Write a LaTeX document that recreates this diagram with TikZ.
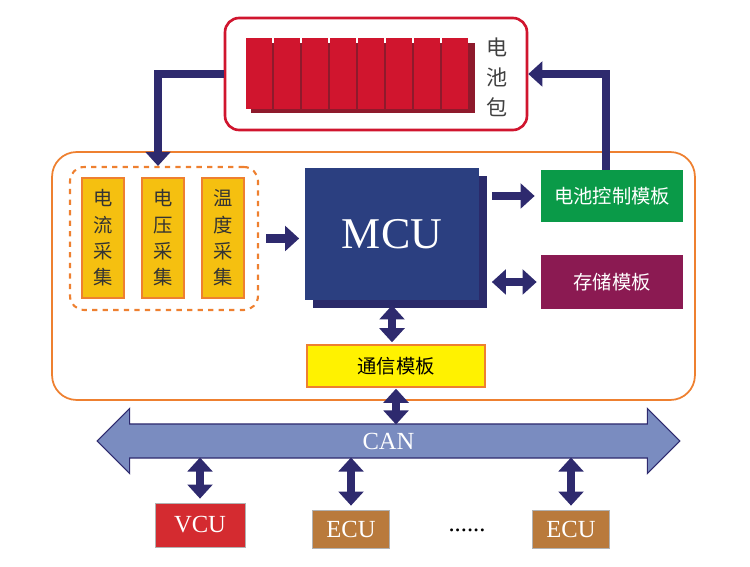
\documentclass[tikz,border=0pt]{standalone}
\usepackage{fontspec}
\newfontfamily\cjk{Noto Sans CJK SC}
\setmainfont{Liberation Serif}
\usetikzlibrary{positioning, arrows.meta, shapes.arrows, shadows}
\definecolor{navy}{HTML}{2E2A6E}
\definecolor{mcublue}{HTML}{2B3F80}
\definecolor{mcushade}{HTML}{2A2A6A}
\definecolor{cellred}{HTML}{D0152E}
\definecolor{celldark}{HTML}{8E1A2C}
\definecolor{frame}{HTML}{EE8030}
\definecolor{senseyel}{HTML}{F5C010}
\definecolor{ctrlgreen}{HTML}{0A9A48}
\definecolor{memplum}{HTML}{8B1A52}
\definecolor{busblue}{HTML}{7A8CC0}
\definecolor{vcured}{HTML}{D42B30}
\definecolor{ecubrown}{HTML}{B97A3C}
\tikzset{
  flow/.style={draw=navy, line width=5pt, -{Triangle[width=14pt,length=8pt]}},
  both/.style={flow, {Triangle[width=14pt,length=8pt]}-{Triangle[width=14pt,length=8pt]}},
  sensor/.style={rectangle, draw=frame, line width=0.8pt, fill=senseyel, minimum width=0.84cm,
    minimum height=2.4cm, align=center, text=black!80, font=\cjk\fontsize{11}{15}\selectfont},
  module/.style={rectangle, minimum width=2.84cm, text=white, font=\cjk\fontsize{11}{13}\selectfont},
  unit/.style={rectangle, draw=white!70!black, text=white, font=\fontsize{14}{16}\selectfont}
}
\begin{document}
\begin{tikzpicture}[x=0.02cm, y=-0.02cm]
		\useasboundingbox (0,0) rectangle (750,567);
		
		%Battery pack
		\node [rectangle, draw=cellred, line width=1.5pt, rounded corners=8pt, minimum width=6.04cm,
		minimum height=2.24cm] (pack) at (376,74) {};
		\foreach \i in {0,...,7} {
			\fill [celldark] (251+28*\i,43) rectangle (279+28*\i,113);
			\fill [cellred] (246+28*\i,38) rectangle (272+28*\i,109);
		}
		\node [align=center, font=\cjk\fontsize{12}{17}\selectfont, text=black!75] (packlabel) at (497,77) {电\\池\\包};
		
		%Management unit
		\node [rectangle, draw=frame, line width=1pt, rounded corners=14pt, minimum width=12.86cm,
		minimum height=4.96cm] (bms) at (373.5,276) {};
		\node [rectangle, draw=frame, dashed, line width=1.2pt, rounded corners=8pt, minimum width=3.76cm,
		minimum height=2.86cm] (sense) at (164,238.5) {};
		\node [sensor] (current) at (103,238) {电\\流\\采\\集};
		\node [sensor] (voltage) at (163,238) {电\\压\\采\\集};
		\node [sensor] (temp) at (223,238) {温\\度\\采\\集};
		\node [rectangle, fill=mcublue, minimum width=3.5cm, minimum height=2.64cm, text=white,
		font=\fontsize{25}{28}\selectfont, drop shadow={shadow xshift=0.16cm, shadow yshift=-0.16cm,
		opacity=1, fill=mcushade}] (mcu) at (392,234) {MCU};
		\node [module, fill=ctrlgreen, minimum height=1.04cm] (ctrl) at (612,196) {电池控制模板};
		\node [module, fill=memplum, minimum height=1.1cm] (mem) at (612,282) {存储模板};
		\node [rectangle, draw=frame, line width=0.8pt, fill=yellow, minimum width=3.56cm,
		minimum height=0.84cm, font=\cjk\fontsize{11}{13}\selectfont] (com) at (396,366) {通信模板};
		
		%Bus and units
		\node [double arrow, draw=navy, fill=busblue, line width=0.6pt, minimum width=1.3cm,
		minimum height=11.66cm, double arrow head extend=0.16cm, inner sep=0pt, text=white,
		font=\fontsize{14}{16}\selectfont] (can) at (388.5,441) {CAN};
		\node [unit, fill=vcured, minimum width=1.8cm, minimum height=0.88cm] (vcu) at (200,525) {VCU};
		\node [unit, fill=ecubrown, minimum width=1.54cm, minimum height=0.76cm] (ecua) at (351,529) {ECU};
		\node [unit, fill=ecubrown, minimum width=1.54cm, minimum height=0.76cm] (ecub) at (571,529) {ECU};
		\node [font=\fontsize{14}{16}\selectfont] (dots) at (467,530) {......};
		
		%Links
		\draw [flow] (pack.west) -| ([xshift=-0.12cm]sense.north);
		\draw [flow] ([xshift=-0.12cm]ctrl.north) |- (pack.east);
		\draw [flow, shorten <=0.14cm, shorten >=0.1cm] (sense.east) -- (mcu.west |- sense.east);
		\draw [flow, shorten <=0.24cm, shorten >=0.12cm] (mcu.east |- ctrl.west) -- (ctrl.west);
		\draw [both, shorten <=0.24cm, shorten >=0.08cm] (mcu.east |- mem.west) -- (mem.west);
		\draw [both, shorten <=0.1cm, shorten >=0.04cm] (mcu.south) -- (mcu.south |- com.north);
		\draw [both, shorten <=0.02cm] (com.south) -- ([yshift=0.33cm]com.south |- can.center);
		\draw [both, shorten <=0.08cm] (vcu.north) -- ([yshift=-0.33cm]vcu.north |- can.center);
		\draw [both, shorten <=0.08cm] (ecua.north) -- ([yshift=-0.33cm]ecua.north |- can.center);
		\draw [both, shorten <=0.08cm] (ecub.north) -- ([yshift=-0.33cm]ecub.north |- can.center);
		
\end{tikzpicture}
\end{document}
